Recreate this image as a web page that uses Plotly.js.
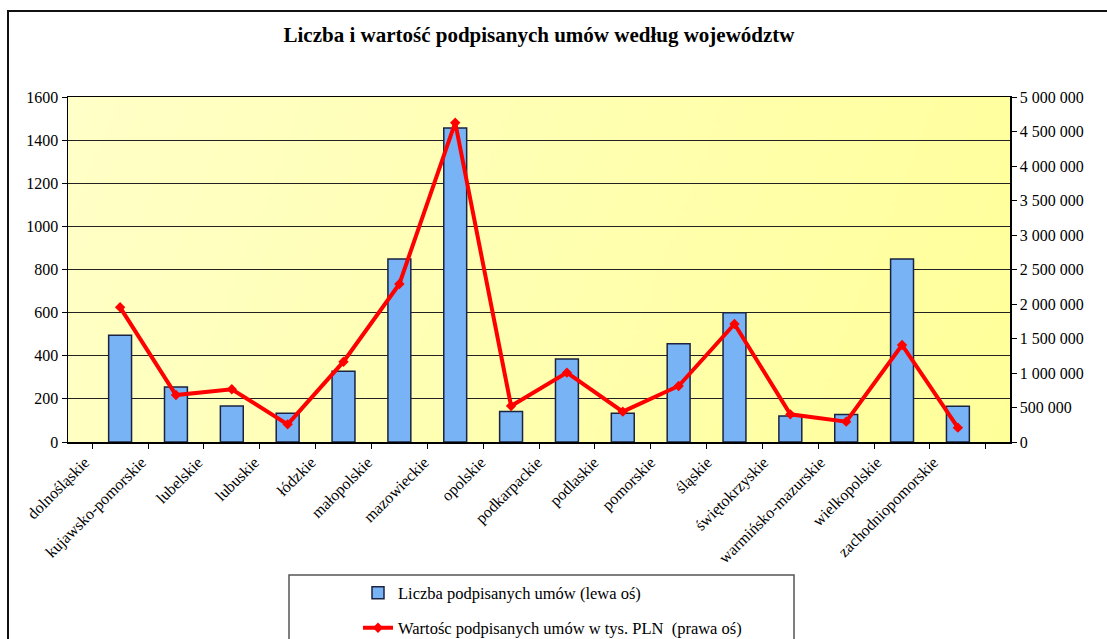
<!DOCTYPE html>
<html><head><meta charset="utf-8">
<script src="https://cdn.plot.ly/plotly-3.0.1.min.js"></script>
<style>html,body{margin:0;padding:0;background:#fff}#chart{width:1107px;height:639px}</style>
</head><body><div id="chart"></div>
<script>
const categories = ["dolnośląskie","kujawsko-pomorskie","lubelskie","lubuskie","łódzkie","małopolskie","mazowieckie","opolskie","podkarpackie","podlaskie","pomorskie","śląskie","świętokrzyskie","warmińsko-mazurskie","wielkopolskie","zachodniopomorskie"];
const contractCounts = [495,255,167,133,328,849,1456,141,385,133,456,600,121,128,849,166];
const contractValues = [1952000,681000,764000,256000,1164000,2290000,4628000,522000,1005000,440000,812000,1710000,401000,295000,1406000,208000];
const leftTicks = [0,200,400,600,800,1000,1200,1400,1600];
const rightTicks = [0,500000,1000000,1500000,2000000,2500000,3000000,3500000,4000000,4500000,5000000];
const chartTitle = "Liczba i wartość podpisanych umów według województw";
const barName = "Liczba podpisanych umów (lewa oś)";
const lineName = "Wartośc podpisanych umów w tys. PLN \u00a0(prawa oś)";

// label positions on a helper axis (labels in the original are spaced slightly tighter than the categories)
const labelPos = categories.map((c, i) => i - 0.08 - 0.039 * i);

// plot-area background gradient
const cv = document.createElement('canvas');
cv.width = 400; cv.height = 150;
const cx = cv.getContext('2d');
const g = cx.createLinearGradient(0, 0, 400, 150);
g.addColorStop(0, '#FFFFC8');
g.addColorStop(1, '#FFFF9A');
cx.fillStyle = g; cx.fillRect(0, 0, 400, 150);
const bgURI = cv.toDataURL('image/png');

const F = 'Liberation Serif, Times New Roman, serif';

const bars = {
  type: 'bar', x: categories, y: contractCounts, name: barName,
  marker: {color: '#78B3F6', line: {color: '#1B2340', width: 1.5}},
  width: 0.41, yaxis: 'y', legend: 'legend', hoverinfo: 'x+y'
};
const line = {
  type: 'scatter', mode: 'lines+markers', x: categories, y: contractValues, name: lineName,
  line: {color: '#FF0000', width: 4}, marker: {symbol: 'diamond', size: 8, color: '#FF0000'},
  yaxis: 'y2', legend: 'legend2'
};
const labelHelper = {type: 'scatter', mode: 'markers', x: [], y: [], xaxis: 'x2', yaxis: 'y', showlegend: false, hoverinfo: 'skip'};

const layout = {
  width: 1107, height: 639,
  margin: {l: 68, r: 97, t: 97, b: 197, autoexpand: false},
  paper_bgcolor: '#FFFFFF', plot_bgcolor: 'rgba(0,0,0,0)',
  separators: ', ',
  font: {family: F, size: 14, color: '#000'},
  title: {text: '<b>' + chartTitle + '</b>', font: {family: F, size: 21, color: '#000'},
          x: 0.5, xref: 'paper', xanchor: 'center', y: 1 - 35/639, yref: 'container', yanchor: 'middle'},
  xaxis: {type: 'category', tickson: 'boundaries', ticks: 'outside', ticklen: 5,
          tickcolor: '#000', showline: true, linecolor: '#000', linewidth: 1.5, mirror: true,
          showticklabels: false, showgrid: false, automargin: false},
  xaxis2: {type: 'linear', range: [-0.5, 15.5], overlaying: 'x', anchor: 'y', side: 'bottom',
           tickvals: labelPos, ticktext: categories, tickangle: -45, ticks: '', showline: false,
           showgrid: false, zeroline: false, automargin: false,
           ticklabelshift: -8, ticklabelstandoff: 7, tickfont: {family: F, size: 16, color: '#000'}},
  yaxis: {range: [0, 1600], tickvals: leftTicks, ticks: 'outside', ticklen: 5, tickcolor: '#000',
          showline: true, linecolor: '#000', linewidth: 1.5, mirror: true, automargin: false,
          showgrid: true, gridcolor: '#222', gridwidth: 1, zeroline: false,
          tickfont: {family: F, size: 16, color: '#000'}},
  yaxis2: {range: [0, 5000000], tickvals: rightTicks, tickformat: ',d', overlaying: 'y', side: 'right',
           ticks: 'outside', ticklen: 5, tickcolor: '#000', showline: true, linecolor: '#000', linewidth: 1.5,
           automargin: false, showgrid: false, zeroline: false, tickfont: {family: F, size: 16, color: '#000'}},
  bargap: 0.59,
  showlegend: true,
  legend: {x: (358-68)/942, xanchor: 'left', y: (442-593)/345, yanchor: 'middle',
           bgcolor: 'rgba(0,0,0,0)', borderwidth: 0, font: {family: F, size: 16.5, color: '#000'}},
  legend2: {x: (358-68)/942, xanchor: 'left', y: (442-628)/345, yanchor: 'middle',
           bgcolor: 'rgba(0,0,0,0)', borderwidth: 0, font: {family: F, size: 16.5, color: '#000'}},
  images: [{source: bgURI, xref: 'paper', yref: 'paper', x: 0, y: 1, sizex: 1, sizey: 1,
            sizing: 'stretch', xanchor: 'left', yanchor: 'top', layer: 'below'}],
  shapes: [
    {type: 'rect', xref: 'paper', yref: 'paper', x0: (8-68)/942, x1: (1130-68)/942,
     y0: (442-700)/345, y1: (442-11)/345, line: {color: '#111', width: 2}, fillcolor: 'rgba(0,0,0,0)', layer: 'above'},
    {type: 'rect', xref: 'paper', yref: 'paper', x0: (289-68)/942, x1: (794-68)/942,
     y0: (442-700)/345, y1: (442-575)/345, line: {color: '#555', width: 1.5}, fillcolor: 'rgba(0,0,0,0)', layer: 'above'}
  ]
};

Plotly.newPlot('chart', [bars, line, labelHelper], layout, {displayModeBar: false, staticPlot: true});
</script></body></html>
